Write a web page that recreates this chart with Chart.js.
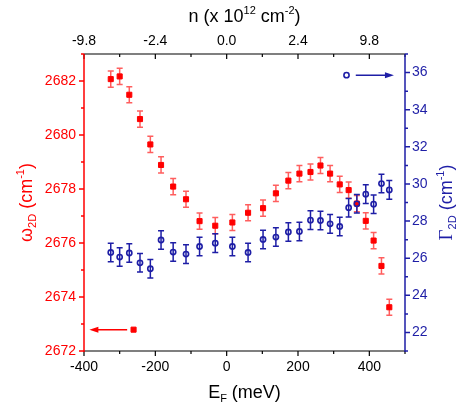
<!DOCTYPE html>
<html lang="en">

<head>
  <meta charset="UTF-8">
  <title>2D peak vs E_F</title>
  <script src="https://cdn.jsdelivr.net/npm/chart.js@4.4.1/dist/chart.umd.min.js"></script>
  <style>
    body {
      margin: 0;
      background: white;
    }
  </style>
</head>

<body>
  <canvas id="myChart" width="469" height="413"></canvas>

  <script>
    // data
    const eF = [-325, -300, -273, -243, -214, -184, -150, -114, -76, -32, 16, 60, 102,
      138, 173, 204, 235, 263, 290, 317, 342, 365, 390, 412, 434, 456];
    const omega = [2682.07, 2682.17, 2681.49, 2680.59, 2679.65, 2678.89, 2678.09, 2677.62, 2676.81,
      2676.64, 2676.76, 2677.12, 2677.29, 2677.84, 2678.31, 2678.57, 2678.63, 2678.87, 2678.57,
      2678.17, 2677.96, 2677.46, 2676.82, 2676.09, 2675.15, 2673.62];
    const omegaErr = [0.3, 0.3, 0.3, 0.3, 0.3, 0.3, 0.3, 0.3, 0.3, 0.3, 0.3, 0.3, 0.3,
      0.3, 0.3, 0.3, 0.3, 0.3, 0.3, 0.3, 0.3, 0.3, 0.3, 0.3, 0.3, 0.3];
    const gamma = [26.31, 26.06, 26.28, 25.75, 25.43, 26.98, 26.33, 26.22, 26.63, 26.81, 26.63, 26.31,
      27.01, 27.14, 27.41, 27.44, 28.05, 28.03, 27.85, 27.71, 28.72, 28.93, 29.45, 28.91, 30.02, 29.68];
    const gammaErr = [0.5, 0.5, 0.5, 0.5, 0.5, 0.5, 0.5, 0.5, 0.5, 0.5, 0.5, 0.5, 0.5,
      0.5, 0.5, 0.5, 0.5, 0.5, 0.5, 0.5, 0.5, 0.5, 0.5, 0.5, 0.5, 0.5];

    const bottomTicks = [-400, -200, 0, 200, 400];
    const topTickLabels = ['-9.8', '-2.4', '0.0', '2.4', '9.8'];
    const leftTicks = [2672, 2674, 2676, 2678, 2680, 2682];
    const rightTicks = [22, 24, 26, 28, 30, 32, 34, 36];

    // key markers + arrows (data coordinates)
    const redKey = { x: -261, y: 2672.79, arrowFrom: -279, arrowTo: -385 };
    const blueKey = { x: 336, y: 35.86, arrowFrom: 362, arrowTo: 469 };

    const RED = '#ff0000';
    const BLUE = '#1e1ea6';
    const FONT = '"Liberation Sans", Arial, sans-serif';

    function setTicks(values) {
      return function (scale) {
        scale.ticks = values.map(v => ({ value: v }));
      };
    }

    // draw text with sub/superscripts, centred on (x, y)
    function drawRich(ctx, parts, x, y, color) {
      ctx.save();
      ctx.fillStyle = color;
      ctx.textBaseline = 'middle';
      let total = 0;
      parts.forEach(p => {
        ctx.font = p.size + 'px ' + (p.family || FONT);
        p.w = ctx.measureText(p.t).width;
        total += p.w;
      });
      let cx = x - total / 2;
      parts.forEach(p => {
        ctx.font = p.size + 'px ' + (p.family || FONT);
        ctx.textAlign = 'left';
        ctx.fillText(p.t, cx, y + (p.dy || 0));
        cx += p.w;
      });
      ctx.restore();
    }

    function arrow(ctx, x1, x2, y, color) {
      const dir = x2 > x1 ? 1 : -1;
      ctx.save();
      ctx.strokeStyle = color;
      ctx.fillStyle = color;
      ctx.lineWidth = 1.5;
      ctx.beginPath();
      ctx.moveTo(x1, y);
      ctx.lineTo(x2 - dir * 6, y);
      ctx.stroke();
      ctx.beginPath();
      ctx.moveTo(x2, y);
      ctx.lineTo(x2 - dir * 9, y - 3);
      ctx.lineTo(x2 - dir * 9, y + 3);
      ctx.closePath();
      ctx.fill();
      ctx.restore();
    }

    const framePlugin = {
      id: 'frame',
      beforeDatasetsDraw(chart) {
        const ctx = chart.ctx;
        const sx = chart.scales.x;
        const sy = chart.scales.y;
        const sy2 = chart.scales.y2;
        ctx.save();
        function bars(vals, errs, scale, color) {
          ctx.strokeStyle = color;
          ctx.lineWidth = 1.5;
          for (let i = 0; i < eF.length; i++) {
            const px = sx.getPixelForValue(eF[i]);
            const lo = scale.getPixelForValue(vals[i] - errs[i]);
            const hi = scale.getPixelForValue(vals[i] + errs[i]);
            ctx.beginPath();
            ctx.moveTo(px, lo); ctx.lineTo(px, hi);
            ctx.moveTo(px - 3, lo); ctx.lineTo(px + 3, lo);
            ctx.moveTo(px - 3, hi); ctx.lineTo(px + 3, hi);
            ctx.stroke();
          }
        }
        bars(omega, omegaErr, sy, 'rgba(255,40,40,0.75)');
        bars(gamma, gammaErr, sy2, BLUE);
        ctx.restore();
      },
      afterDraw(chart) {
        const ctx = chart.ctx;
        const a = chart.chartArea;
        const sx = chart.scales.x;
        const sy = chart.scales.y;
        const sy2 = chart.scales.y2;
        ctx.save();
        ctx.lineCap = 'butt';

        // top + bottom frame
        ctx.strokeStyle = '#000';
        ctx.lineWidth = 1.2;
        ctx.beginPath();
        ctx.moveTo(a.left, a.top); ctx.lineTo(a.right, a.top);
        ctx.moveTo(a.left, a.bottom); ctx.lineTo(a.right, a.bottom);
        for (let v = -400; v <= 500; v += 100) {
          const px = sx.getPixelForValue(v);
          const len = v % 200 === 0 ? 5 : 3;
          ctx.moveTo(px, a.bottom); ctx.lineTo(px, a.bottom + len);
          ctx.moveTo(px, a.top); ctx.lineTo(px, a.top + len);
        }
        ctx.stroke();

        // left axis
        ctx.strokeStyle = RED;
        ctx.lineWidth = 1.5;
        ctx.beginPath();
        ctx.moveTo(a.left, a.top); ctx.lineTo(a.left, a.bottom + 1);
        for (let v = 2672; v <= 2683; v++) {
          const py = sy.getPixelForValue(v);
          const len = v % 2 === 0 ? 5 : 3;
          ctx.moveTo(a.left, py); ctx.lineTo(a.left - len, py);
        }
        ctx.stroke();

        // right axis
        ctx.strokeStyle = BLUE;
        ctx.beginPath();
        ctx.moveTo(a.right, a.top); ctx.lineTo(a.right, a.bottom + 1);
        for (let v = 21; v <= 37; v++) {
          const py = sy2.getPixelForValue(v);
          const len = v % 2 === 0 ? 5 : 3;
          ctx.moveTo(a.right, py); ctx.lineTo(a.right + len, py);
        }
        ctx.stroke();

        // key arrows
        arrow(ctx, sx.getPixelForValue(redKey.arrowFrom), sx.getPixelForValue(redKey.arrowTo),
          sy.getPixelForValue(redKey.y), RED);
        arrow(ctx, sx.getPixelForValue(blueKey.arrowFrom), sx.getPixelForValue(blueKey.arrowTo),
          sy2.getPixelForValue(blueKey.y), BLUE);

        // axis titles
        drawRich(ctx, [
          { t: 'n (x 10', size: 18 },
          { t: '12', size: 11, dy: -6 },
          { t: ' cm', size: 18 },
          { t: '-2', size: 11, dy: -6 },
          { t: ')', size: 18 }
        ], (a.left + a.right) / 2, 17, '#000');

        drawRich(ctx, [
          { t: 'E', size: 18 },
          { t: 'F', size: 11, dy: 6 },
          { t: ' (meV)', size: 18 }
        ], (a.left + a.right) / 2, 393, '#000');

        const midY = (a.top + a.bottom) / 2;
        ctx.save();
        ctx.translate(27, midY);
        ctx.rotate(-Math.PI / 2);
        drawRich(ctx, [
          { t: 'ω', size: 18 },
          { t: '2D', size: 11, dy: 6 },
          { t: ' (cm', size: 18 },
          { t: '-1', size: 11, dy: -6 },
          { t: ')', size: 18 }
        ], 0, 0, RED);
        ctx.restore();

        ctx.save();
        ctx.translate(447, midY);
        ctx.rotate(-Math.PI / 2);
        drawRich(ctx, [
          { t: 'Γ', size: 19, family: '"Liberation Serif", serif' },
          { t: '2D', size: 11, dy: 6 },
          { t: ' (cm', size: 18 },
          { t: '-1', size: 11, dy: -6 },
          { t: ')', size: 18 }
        ], 0, 0, BLUE);
        ctx.restore();

        ctx.restore();
      }
    };

    const ctx1 = document.getElementById('myChart');

    new Chart(ctx1, {
      type: 'scatter',
      data: {
        datasets: [{
          label: 'Gamma 2D',
          data: eF.map((x, i) => ({ x: x, y: gamma[i] })),
          yAxisID: 'y2',
          pointStyle: 'circle',
          pointRadius: 2.6,
          borderWidth: 1.6,
          borderColor: BLUE,
          backgroundColor: 'rgba(0,0,0,0)'
        }, {
          label: 'omega 2D',
          data: eF.map((x, i) => ({ x: x, y: omega[i] })),
          yAxisID: 'y',
          pointStyle: 'rect',
          pointRadius: 3.6,
          borderWidth: 1,
          borderColor: RED,
          backgroundColor: RED
        }, {
          label: 'key blue',
          data: [{ x: blueKey.x, y: blueKey.y }],
          yAxisID: 'y2',
          pointStyle: 'circle',
          pointRadius: 2.6,
          borderWidth: 1.6,
          borderColor: BLUE,
          backgroundColor: 'rgba(0,0,0,0)'
        }, {
          label: 'key red',
          data: [{ x: redKey.x, y: redKey.y }],
          yAxisID: 'y',
          pointStyle: 'rect',
          pointRadius: 3.6,
          borderWidth: 1,
          borderColor: RED,
          backgroundColor: RED
        }]
      },
      options: {
        responsive: false,
        animation: false,
        layout: { padding: 0 },
        plugins: {
          legend: { display: false },
          tooltip: { enabled: false }
        },
        scales: {
          x: {
            type: 'linear',
            position: 'bottom',
            min: -400,
            max: 500,
            afterBuildTicks: setTicks(bottomTicks),
            afterFit: s => { s.height = 62; },
            grid: { display: false, drawTicks: false },
            border: { display: false },
            ticks: {
              padding: 8, color: '#000', font: { family: FONT, size: 14 }, maxRotation: 0,
              callback: v => String(v)
            }
          },
          x2: {
            type: 'linear',
            position: 'top',
            min: -400,
            max: 500,
            afterBuildTicks: setTicks(bottomTicks),
            afterFit: s => { s.height = 54; },
            grid: { display: false, drawTicks: false },
            border: { display: false },
            ticks: {
              padding: 4, color: '#000', font: { family: FONT, size: 14 }, maxRotation: 0,
              callback: (v, i) => topTickLabels[i]
            }
          },
          y: {
            type: 'linear',
            position: 'left',
            min: 2672,
            max: 2683,
            afterBuildTicks: setTicks(leftTicks),
            afterFit: s => { s.width = 84; },
            grid: { display: false, drawTicks: false },
            border: { display: false },
            ticks: {
              padding: 8, color: RED, font: { family: FONT, size: 14 },
              callback: v => String(v)
            }
          },
          y2: {
            type: 'linear',
            position: 'right',
            min: 21,
            max: 37,
            afterBuildTicks: setTicks(rightTicks),
            afterFit: s => { s.width = 64; },
            grid: { display: false, drawTicks: false },
            border: { display: false },
            ticks: {
              padding: 7, color: BLUE, font: { family: FONT, size: 14 },
              callback: v => String(v)
            }
          }
        }
      },
      plugins: [framePlugin]
    });
  </script>
</body>

</html>
